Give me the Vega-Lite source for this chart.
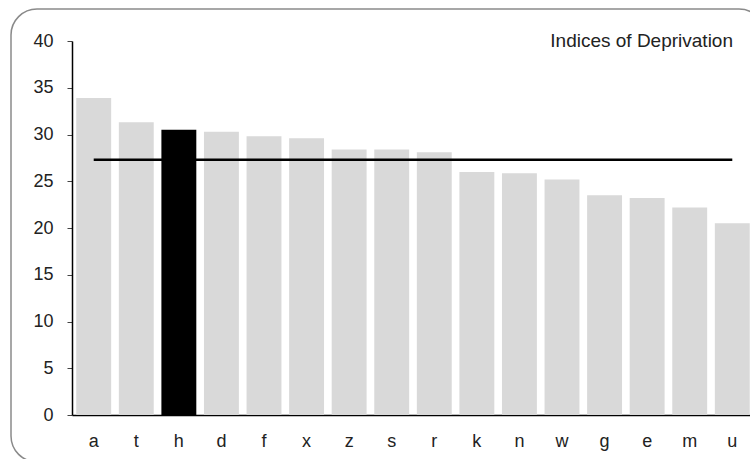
{
  "$schema": "https://vega.github.io/schema/vega-lite/v6.json",
  "autosize": "none",
  "padding": {"left": 11, "top": 9, "right": 0, "bottom": 0},
  "width": 754,
  "height": 453,
  "background": "white",
  "config": {
    "view": {"stroke": "#8a8a8a", "strokeWidth": 1.5, "cornerRadius": 26},
    "font": "Liberation Sans"
  },
  "title": {
    "text": "Indices of Deprivation",
    "anchor": "end",
    "frame": "group",
    "orient": "top",
    "baseline": "middle",
    "offset": -51,
    "dx": -32,
    "font": "Liberation Sans",
    "fontSize": 19,
    "fontWeight": "normal",
    "color": "#222222"
  },
  "data": {
    "values": [
      {"area": "a", "score": 33.9, "avg": 27.3, "hl": "no"},
      {"area": "t", "score": 31.3, "avg": 27.3, "hl": "no"},
      {"area": "h", "score": 30.5, "avg": 27.3, "hl": "yes"},
      {"area": "d", "score": 30.3, "avg": 27.3, "hl": "no"},
      {"area": "f", "score": 29.8, "avg": 27.3, "hl": "no"},
      {"area": "x", "score": 29.6, "avg": 27.3, "hl": "no"},
      {"area": "z", "score": 28.4, "avg": 27.3, "hl": "no"},
      {"area": "s", "score": 28.4, "avg": 27.3, "hl": "no"},
      {"area": "r", "score": 28.1, "avg": 27.3, "hl": "no"},
      {"area": "k", "score": 26.0, "avg": 27.3, "hl": "no"},
      {"area": "n", "score": 25.85, "avg": 27.3, "hl": "no"},
      {"area": "w", "score": 25.2, "avg": 27.3, "hl": "no"},
      {"area": "g", "score": 23.5, "avg": 27.3, "hl": "no"},
      {"area": "e", "score": 23.2, "avg": 27.3, "hl": "no"},
      {"area": "m", "score": 22.2, "avg": 27.3, "hl": "no"},
      {"area": "u", "score": 20.5, "avg": 27.3, "hl": "no"}
    ]
  },
  "encoding": {
    "x": {
      "field": "area",
      "type": "nominal",
      "sort": null,
      "scale": {"range": [61, 743], "paddingInner": 0.18, "paddingOuter": 0.1},
      "axis": {
        "title": null,
        "offset": -47,
        "labelAngle": 0,
        "ticks": false,
        "domainColor": "#000000",
        "domainWidth": 1.5,
        "labelFont": "Liberation Sans",
        "labelFontSize": 18,
        "labelColor": "#222222",
        "labelPadding": 17
      }
    }
  },
  "layer": [
    {
      "mark": {"type": "bar"},
      "encoding": {
        "y": {
          "field": "score",
          "type": "quantitative",
          "scale": {"domain": [0, 40], "range": [406, 32], "nice": false},
          "axis": {
            "title": null,
            "offset": -61,
            "values": [0, 5, 10, 15, 20, 25, 30, 35, 40],
            "grid": false,
            "tickSize": 5,
            "tickColor": "#444444",
            "domainColor": "#000000",
            "domainWidth": 1.5,
            "labelFont": "Liberation Sans",
            "labelFontSize": 18,
            "labelColor": "#222222",
            "labelPadding": 14
          }
        },
        "color": {
          "field": "hl",
          "type": "nominal",
          "scale": {"domain": ["no", "yes"], "range": ["#d9d9d9", "#000000"]},
          "legend": null
        }
      }
    },
    {
      "mark": {"type": "line", "color": "#000000", "strokeWidth": 2.5},
      "encoding": {
        "y": {"field": "avg", "type": "quantitative"}
      }
    }
  ]
}
